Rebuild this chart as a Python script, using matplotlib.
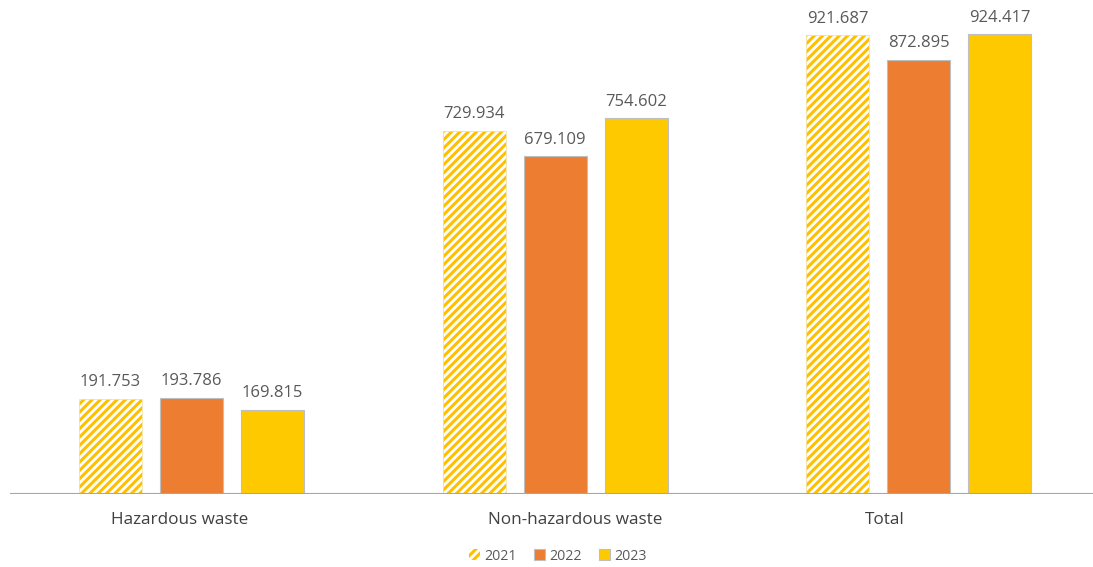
import matplotlib
matplotlib.use("Agg")
import matplotlib.pyplot as plt
import numpy as np

categories = ["Hazardous waste", "Non-hazardous waste", "Total"]
years = ["2021", "2022", "2023"]
v2021 = [191.753, 729.934, 921.687]
v2022 = [193.786, 679.109, 872.895]
v2023 = [169.815, 754.602, 924.417]

plt.rcParams['font.family'] = ['Open Sans', 'DejaVu Sans']
plt.rcParams['hatch.linewidth'] = 2.2
plt.rcParams['hatch.color'] = '#FFC000'

fig = plt.figure(figsize=(10.93, 5.67), dpi=100)
ax = fig.add_axes([0.0089, 0.1287, 0.9911, 0.862])

x = np.arange(len(categories))
step = 0.223
width = 0.173
edge = '#BFBFBF'
text_c = '#595959'

series = [v2021, v2022, v2023]
colors = ['white', '#ED7D31', '#FFC900']
handles = []
for i, vals in enumerate(series):
    pos = x + (i - 1) * step
    if i == 0:
        b = ax.bar(pos, vals, width, facecolor='white', hatch='////',
                   edgecolor='#FFC000', linewidth=0, label=years[i], zorder=2)
        ax.bar(pos, vals, width, facecolor='none', edgecolor='#F2E2A8',
               linewidth=0.6, zorder=3)
    else:
        b = ax.bar(pos, vals, width, color=colors[i], edgecolor=edge,
                   linewidth=0.8, label=years[i], zorder=2)
    handles.append(b)
    for p, v in zip(pos, vals):
        ax.annotate(f"{v:.3f}", (p, v), xytext=(0, 6), textcoords='offset points',
                    ha='center', va='bottom', fontsize=12, color=text_c)

ax.set_ylim(0, 982)
ax.set_xlim(-0.5, 2.479)
ax.axhline(0, color='#A6A6A6', linewidth=1.5, zorder=4)
for s in ax.spines.values():
    s.set_visible(False)
ax.set_yticks([])
ax.set_xticks([])

label_offsets = [-0.034, 0.055, -0.093]
for xi, lab, off in zip(x, categories, label_offsets):
    ax.text(xi + off, -52, lab, ha='center', va='center', fontsize=12.3,
            color='#404040', transform=ax.transData, clip_on=False)

leg = fig.legend(handles=handles, labels=years, loc='center',
                 bbox_to_anchor=(558 / 1093, 1 - 556 / 567), ncol=3,
                 frameon=False, fontsize=10.2, handlelength=0.8, handleheight=0.8,
                 handletextpad=0.3, columnspacing=1.2, labelcolor=text_c)

fig.savefig("out.png", dpi=100, facecolor='white')
